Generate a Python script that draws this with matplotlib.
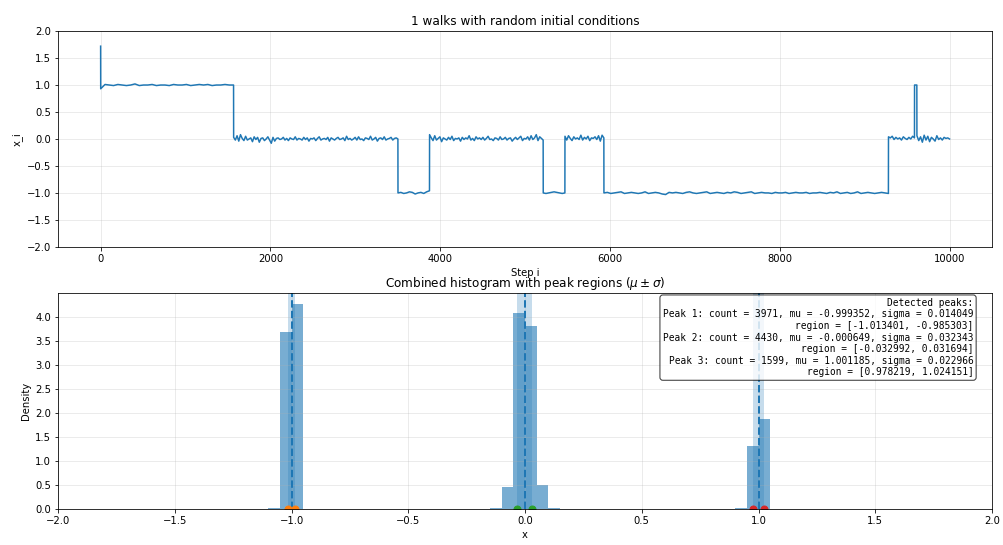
import numpy as np
import matplotlib
matplotlib.use("Agg")
import matplotlib.pyplot as plt

# walk: piecewise levels, jitter in units of 0.01
start_value = 1.72
seg_starts = [1, 1567, 3503, 3875, 5214, 5470, 5929, 9281, 9588, 9616]
seg_ends = [1566, 3502, 3874, 5213, 5469, 5928, 9280, 9587, 9615, 10000]
seg_levels = [1.0, 0.0, -1.0, 0.0, -1.0, 0.0, -1.0, 0.0, 1.0, 0.0]

jit_a = [-7, 1, 0, -1, 1, 0, -1, 0, 2, -1, 0, 0, 1, -1, 0, 0, -1, 1, 0, 0,
         1, -1, 0, 1, 0, 1, -1, 0, 0, 1, 0, 0]
jit_b = [3, -2, 6, -4, 8, 1, -3, 5, -2, 0, 2, -5, 4, -1, 3, -6, 1, 2, -3, 0,
         4, -2, -8, 3, -4, 1, 2, -1, 0, 3, -2, 1, -3, 2, 0, -1, 4, -2, 1, 0,
         -2, 3, -1, 2, -4, 1, 0, 2, -3, 1, 4, -2, 0, 1, -1, 3, -4, 2, 0, -2,
         1, 3, -1, 0, 2, -3, 5, -1, 1, -2, 0, 3, -2, 4, -1, 0, -3, 2, 1, -1,
         5, -2, 0, 3, -4, 1, 2, -1, 4, -2, 0, 1, 3, -2, 1, 2, 0]
jit_c = [0, 1, -1, 0, 2, 1, -2, 0, 1, -1, 2, 4]
jit_d = [8, 2, -3, 6, -2, 1, 4, -5, 2, 0, -2, 3, -1, 5, -3, 1, 0, 2, -4, 3,
         -1, 2, 0, 6, -2, 1, -3, 4, 0, 2, -1, 3, -2, 1, 5, -1, 0, -3, 2, 1,
         -2, 4, -1, 0, 3, -2, 1, 2, -4, 0, 3, -1, 2, 5, -3, 1, 0, 4, -2, 6,
         -1, 2, 8, -3, 4, 1, -2]
jit_e = [0, -1, 0, 1, 2, 1, 0, -1, 0]
jit_f = [5, -2, 6, 1, -3, 4, 0, 2, -1, 7, -2, 3, 0, 5, -3, 2, 1, 4, -1, 6,
         -4, 7, 2]
jit_g = [0, 1, -1, 0, 1, 2, -1, 0, 1, 0, -1, 0, 2, -1, 0, 1, 0, -2, -3, 1,
         0, 1, 0, -1, 1, 2, 0, -1, 0, 1, 2, -1, 0, 1, 0, -1, 1, 0, 2, 1,
         -1, 0, 1, 2, -1, 0, 1, 0, 0, -1, 1, 0, 0, 1, -1, 0, 1, 0, 0, 1,
         -1, 0, 0, 1, 0, -1, 1, 0, 2, -1, 0, 1, -1, 0, 2, -1, 0, 1, 0, -1,
         0, 1, 0, -1]
jit_h = [4, 2, 5, -1, 3, 0, 2, -2, 4, 1, -1, 3, 0, 5, 2]
jit_spike = [0, 0]
jit_i = [6, -3, 4, -6, 7, -2, 5, -5, 3, 0, -4, 6, -1, 2, -2, 3, 1, 2, 0]
jitters = [jit_a, jit_b, jit_c, jit_d, jit_e, jit_f, jit_g, jit_h, jit_spike, jit_i]

# histogram (density per 0.05-wide bin, only non-empty bins)
hist_bin_lo = [-1.10, -1.05, -1.00, -0.15, -0.10, -0.05, 0.00, 0.05, 0.10, 0.90, 0.95, 1.00]
hist_density = [0.02, 3.68, 4.27, 0.02, 0.46, 4.08, 3.81, 0.51, 0.02, 0.02, 1.31, 1.87]

# detected peaks
peak_count = [3971, 4430, 1599]
peak_mu = [-0.999352, -0.000649, 1.001185]
peak_sigma = [0.014049, 0.032343, 0.022966]
peak_colors = ["C1", "C2", "C3"]

steps = [np.array([0.0])]
values = [np.array([start_value])]
for s, e, lev, jit in zip(seg_starts, seg_ends, seg_levels, jitters):
    steps.append(np.linspace(s, e, len(jit)))
    values.append(lev + np.array(jit) * 0.01)
steps = np.concatenate(steps)
values = np.concatenate(values)

plt.rcParams["font.size"] = 10
fig, (ax1, ax2) = plt.subplots(2, 1, figsize=(1003 / 72, 545 / 72), dpi=72)
fig.subplots_adjust(left=0.058, right=0.989, top=0.943, bottom=0.0655, hspace=0.216)

ax1.plot(steps, values, color="C0", lw=1.5)
ax1.set_ylim(-2, 2)
ax1.set_title("1 walks with random initial conditions")
ax1.set_xlabel("Step i")
ax1.set_ylabel("x_i")
ax1.grid(True, alpha=0.3)

bin_edges = np.arange(-2, 2.0001, 0.05)
centers = np.array(hist_bin_lo) + 0.025
ax2.hist(centers, bins=bin_edges, weights=hist_density, color="C0", alpha=0.6)

lines = ["Detected peaks:"]
for k in range(len(peak_mu)):
    lo = peak_mu[k] - peak_sigma[k]
    hi = peak_mu[k] + peak_sigma[k]
    ax2.axvspan(lo, hi, color="C0", alpha=0.25, lw=0)
    ax2.axvline(peak_mu[k], color="C0", ls="--", lw=2)
    ax2.plot([lo, hi], [0, 0], "o", color=peak_colors[k], ms=7)
    lines.append(f"Peak {k + 1}: count = {peak_count[k]}, mu = {peak_mu[k]:.6f}, sigma = {peak_sigma[k]:.6f}")
    lines.append(f"region = [{lo:.6f}, {hi:.6f}]")

ax2.text(0.98, 0.98, "\n".join(lines), transform=ax2.transAxes, ha="right", va="top",
         family="monospace", fontsize=9.5,
         bbox=dict(boxstyle="round", facecolor="white", alpha=0.8))
ax2.set_xlim(-2, 2)
ax2.set_title(r"Combined histogram with peak regions ($\mu \pm \sigma$)")
ax2.set_xlabel("x")
ax2.set_ylabel("Density")
ax2.grid(True, alpha=0.3)

fig.savefig("out.png", dpi=72)
